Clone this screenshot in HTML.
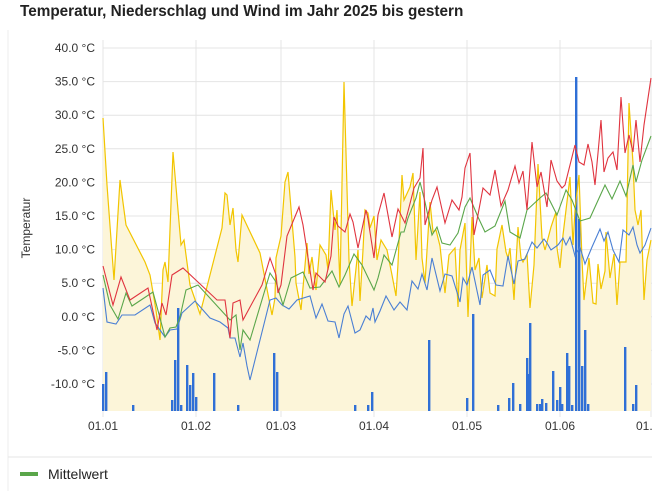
<!DOCTYPE html>
<html><head><meta charset="utf-8"><style>
html,body{margin:0;padding:0;background:#fff;width:652px;height:491px;overflow:hidden;font-family:"Liberation Sans",sans-serif}
</style></head><body>
<svg id="s" width="652" height="491" xmlns="http://www.w3.org/2000/svg" style="position:absolute;left:0;top:0">
<text x="20" y="16" font-size="15.3" font-weight="bold" fill="#222">Temperatur, Niederschlag und Wind im Jahr 2025 bis gestern</text>
<line x1="8" y1="30" x2="8" y2="491" stroke="#eee"/>
<g id="grid"></g>
<g id="data"></g>
<text transform="translate(30,228) rotate(-90)" font-size="12" fill="#333" text-anchor="middle">Temperatur</text>
<line x1="8" y1="457" x2="652" y2="457" stroke="#e6e6e6"/>
<line x1="20" y1="474" x2="38" y2="474" stroke="#5aa64a" stroke-width="4"/>
<text x="48" y="479" font-size="14" fill="#222">Mittelwert</text>
</svg>
<script>
var NS="http://www.w3.org/2000/svg";
function el(p,t,a,txt){var e=document.createElementNS(NS,t);for(var k in a)e.setAttribute(k,a[k]);if(txt)e.textContent=txt;p.appendChild(e);return e;}
var g=document.getElementById('grid'),d=document.getElementById('data');
var labs=["40.0 °C","35.0 °C","30.0 °C","25.0 °C","20.0 °C","15.0 °C","10.0 °C","5.0 °C","0.0 °C","-5.0 °C","-10.0 °C"];
for(var i=0;i<11;i++){var y=48+i*33.6;el(g,'line',{x1:103,x2:652,y1:y,y2:y,stroke:'#e4e4e4'});el(g,'text',{x:95,y:y+4,'font-size':12,fill:'#333','text-anchor':'end'},labs[i]);}
var mx=[103,196,281,374,467,560,651],ml=["01.01","01.02","01.03","01.04","01.05","01.06","01.07"];
for(i=0;i<7;i++){el(g,'line',{x1:mx[i],x2:mx[i],y1:40,y2:417,stroke:'#e4e4e4'});el(g,'text',{x:mx[i],y:430,'font-size':12,fill:'#333','text-anchor':'middle'},ml[i]);}
function pts(a){var s=[];for(var i=0;i<a.length;i+=2)s.push(a[i]+","+a[i+1]);return s.join(" ");}
var Y=[103,118,107,185,114,280,120,180,126,225,145,262,150,275,156,310,160,340,163,270,165,262,168,282,173,152,181,245,184,240,190,285,200,314,222,228,225,193,227,195,230,225,233,208,236,250,238,262,242,215,260,253,272,315,275,298,276,258,281,236,285,182,288,172,295,257,296,283,301,310,307,243,309,274,312,257,316,290,320,245,326,255,328,270,331,190,335,230,337,210,340,285,344,82,349,260,352,306,358,250,360,301,363,250,365,210,368,213,370,228,374,216,377,260,381,240,387,250,392,275,396,296,398,264,402,175,404,200,410,187,413,173,416,260,420,192,422,258,425,283,430,202,433,232,436,230,440,246,445,293,449,255,455,248,458,307,460,250,465,223,468,317,472,217,475,270,479,258,482,298,487,265,490,293,495,296,497,249,502,225,506,252,508,258,510,248,514,300,518,227,521,258,523,262,527,254,530,308,534,265,538,164,542,238,545,250,551,227,556,212,557,248,560,268,563,235,566,210,570,177,573,245,575,210,579,175,582,260,584,300,589,258,593,303,596,304,598,264,601,289,605,271,606,232,610,278,614,254,617,305,620,262,626,262,629,103,633,163,635,210,638,225,641,210,644,300,647,260,651,240];
el(d,'polygon',{points:"103,411 "+pts(Y)+" 651,411",fill:'#fcf5d9',stroke:'none'});
var bars=[103,384,106,372,133,405,172,400,175,360,178,308,181,405,187,365,190,385,193,373,196,397,214,373,238,405,274,353,277,372,355,405,368,405,372,392,429,340,467,398,473,314,498,405,509,398,513,383,520,404,527,358,529,374,530,323,537,404,540,404,542,399,546,403,553,371,557,400,560,387,562,404,567,353,569,366,572,405,576,77,579,219,582,366,585,330,588,404,625,347,633,404,636,385];
for(i=0;i<bars.length;i+=2)el(d,'rect',{x:bars[i]-1,y:bars[i+1],width:2.4,height:411-bars[i+1],fill:'#2f6fd6'});
el(d,'polyline',{points:pts(Y),fill:'none',stroke:'#f2c500','stroke-width':1.2});
var R=[103,266,113,305,121,277,130,300,148,288,157,330,162,303,166,315,172,275,183,268,199,283,217,300,225,300,230,338,233,303,240,300,243,320,262,285,270,258,276,275,278,293,281,285,287,236,299,207,303,225,313,290,316,273,325,282,331,256,334,217,338,226,345,232,350,214,353,222,358,248,366,210,368,219,374,258,378,215,384,193,392,237,398,209,405,223,414,188,420,178,423,148,425,225,432,200,437,187,445,223,452,200,459,210,462,197,465,168,470,153,474,235,477,220,483,188,490,195,495,170,501,206,508,190,515,166,519,183,523,171,527,210,532,142,537,187,541,172,547,207,551,160,557,181,562,188,565,185,570,165,575,145,579,162,584,165,588,144,592,162,595,185,598,153,601,120,604,172,608,158,613,152,617,170,621,97,625,153,629,135,633,152,636,120,640,162,644,125,651,78];
var G=[103,275,110,305,118,319,126,293,132,306,153,292,160,318,165,337,170,328,176,327,180,317,186,290,198,285,230,320,236,315,240,350,243,330,250,340,270,273,276,282,283,305,291,278,303,272,310,288,320,287,332,271,339,287,345,275,354,254,362,265,374,290,378,278,384,255,392,265,401,232,404,232,408,218,416,198,420,182,425,202,432,235,437,227,442,243,450,245,458,233,465,207,470,198,478,217,485,232,495,226,505,201,510,232,520,238,527,210,540,198,546,193,557,215,566,190,572,200,580,221,590,218,600,196,605,185,612,199,620,181,626,196,633,165,636,182,642,160,651,136];
var B=[103,288,107,322,116,324,122,315,135,315,150,305,155,323,160,330,165,337,170,330,177,329,182,313,195,301,210,318,220,322,228,328,230,338,235,338,240,357,243,343,247,366,250,380,270,300,276,298,282,305,289,309,297,300,310,296,316,318,322,304,328,321,335,322,339,338,344,314,348,306,355,333,360,330,366,316,370,320,373,308,375,322,380,311,386,296,394,310,400,302,407,310,412,281,418,289,422,274,427,290,432,258,440,291,445,274,452,276,460,302,463,278,467,285,472,267,480,305,483,275,490,270,496,285,503,286,508,256,514,284,518,261,525,259,532,242,537,248,544,239,547,243,551,250,558,245,563,238,566,245,570,237,575,256,580,247,585,264,592,247,600,229,604,241,608,232,613,250,619,262,623,230,629,235,633,227,637,245,640,253,645,245,651,228];
el(d,'polyline',{points:pts(B),fill:'none',stroke:'#4a7fd4','stroke-width':1.1});
el(d,'polyline',{points:pts(G),fill:'none',stroke:'#5aa64a','stroke-width':1.1});
el(d,'polyline',{points:pts(R),fill:'none',stroke:'#e0343f','stroke-width':1.1});
</script>
</body></html>
